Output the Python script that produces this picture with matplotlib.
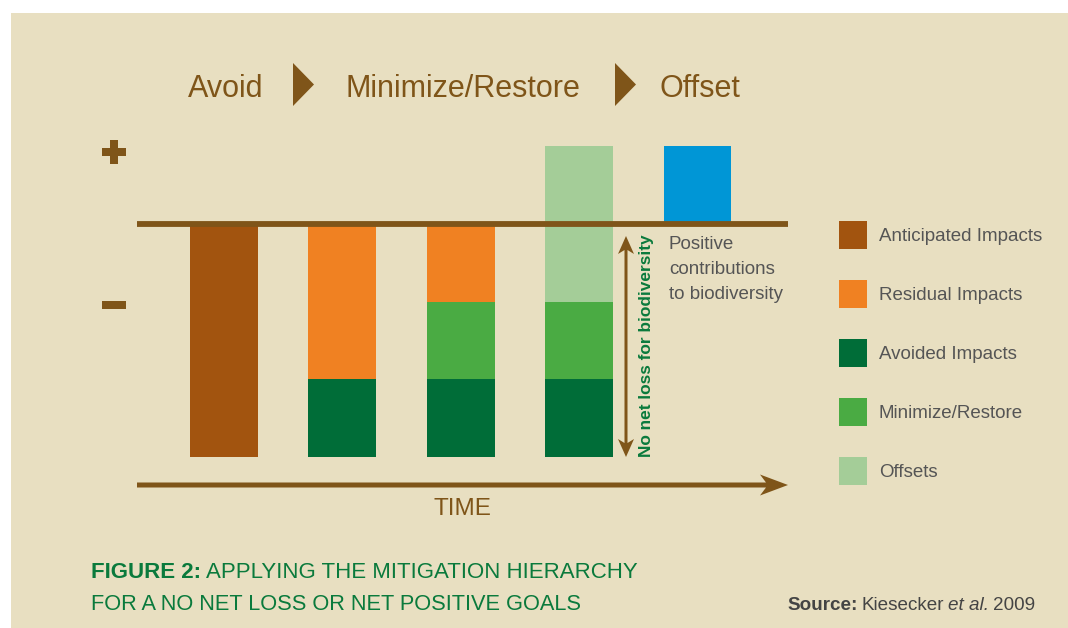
import numpy as np
import matplotlib
matplotlib.use("Agg")
from matplotlib import pyplot as plt
from matplotlib.patches import Polygon, Rectangle

# stage headings above the bars
stages = ["Avoid", "Minimize/Restore", "Offset"]
stage_bar = [0, 2, 4]

# stacked segments per bar (units of impact), bottom-up from -3
legend_labels = ["Anticipated Impacts", "Residual Impacts", "Avoided Impacts",
                 "Minimize/Restore", "Offsets"]
avoided = [0, 1, 1, 1, 0]
minimize = [0, 0, 1, 1, 0]
offsets = [0, 0, 0, 2, 0]
residual = [0, 2, 1, 0, 0]
anticipated = [3, 0, 0, 0, 0]
net_positive = [0, 0, 0, 0, 1]
base = -3

col_anticipated = "#a2540f"
col_residual = "#f08122"
col_avoided = "#006d38"
col_minimize = "#4aab43"
col_offsets = "#a4cd98"
col_positive = "#0096d6"
legend_colors = [col_anticipated, col_residual, col_avoided, col_minimize, col_offsets]

brown = "#7f5519"
green_txt = "#0a7a3c"
gray = "#555555"
panel = "#e8dfc1"

sans = ["Liberation Sans", "DejaVu Sans"]

fig = plt.figure(figsize=(10.68, 6.28), dpi=100)
fig.patch.set_facecolor("white")

# decoration layer in pixel coords
deco = fig.add_axes([0, 0, 1, 1], zorder=0)
deco.set_xlim(0, 1068)
deco.set_ylim(628, 0)
deco.axis("off")
deco.add_patch(Rectangle((11, 13), 1057, 615, color=panel, lw=0))

# chart layer in data coords
ax = fig.add_axes([0, 0, 1, 1], zorder=1)
ax.patch.set_alpha(0)
ax.axis("off")
ax.set_xlim(-223.9 / 118.4, (1068 - 223.9) / 118.4)
ax.set_ylim((224 - 628) / 77.7, 224 / 77.7)

x = np.arange(len(avoided))
w = 0.574
bottom = np.full(len(x), float(base))
for vals, c in [(avoided, col_avoided), (minimize, col_minimize), (offsets, col_offsets),
                (residual, col_residual), (anticipated, col_anticipated)]:
    v = np.array(vals, dtype=float)
    ax.bar(x, v, w, bottom=bottom, color=c, lw=0)
    bottom += v
ax.bar(x, net_positive, w, bottom=0, color=col_positive, lw=0)

# baseline
ax.hlines(0, -0.734, 4.764, color=brown, lw=4.2, zorder=5)

# plus / minus signs
deco.add_patch(Rectangle((102, 148), 24, 8, color=brown, lw=0))
deco.add_patch(Rectangle((110, 140), 8, 24, color=brown, lw=0))
deco.add_patch(Rectangle((102, 301), 24, 8, color=brown, lw=0))

# stage headings and chevrons
for name, b in zip(stages, stage_bar):
    px = ax.transData.transform((b, 0))[0]
    deco.text(px + 2, 89, name, ha="center", va="center", fontsize=22,
              color=brown, family=sans)
for tx in [293, 615]:
    deco.add_patch(Polygon([(tx, 63), (tx + 21, 84.5), (tx, 106)], color=brown, lw=0))

# time arrow
deco.add_patch(Polygon([(137, 482.5), (766, 482.5), (760, 474.5), (788, 485),
                        (760, 495.5), (766, 487.5), (137, 487.5)], color=brown, lw=0))
deco.text(462, 509, "TIME", ha="center", va="center", fontsize=17.5, color=brown, family=sans)

# double arrow for no net loss
ax_x = 626
deco.add_patch(Polygon([(ax_x, 236), (ax_x + 8, 254), (ax_x + 1.5, 250), (ax_x + 1.5, 443),
                        (ax_x + 8, 439), (ax_x, 457), (ax_x - 8, 439), (ax_x - 1.5, 443),
                        (ax_x - 1.5, 250), (ax_x - 8, 254)], color=brown, lw=0))
deco.text(646, 346, "No net loss for biodiversity", rotation=90, ha="center", va="center",
          fontsize=12.4, fontweight="bold", color=green_txt, family=sans)

deco.text(669, 236, "Positive\ncontributions\nto biodiversity", ha="left", va="top",
          fontsize=13.5, color=gray, family=sans, linespacing=1.6)

# legend
leg_y = [236.5, 295.5, 354.5, 413.5, 472.5]
for lab, c, yy in zip(legend_labels, legend_colors, leg_y):
    deco.add_patch(Rectangle((839, yy - 15.5), 28, 28, color=c, lw=0))
    deco.text(879, yy, lab, ha="left", va="center", fontsize=13.5, color=gray, family=sans)

# caption and source, built piece by piece
renderer = fig.canvas.get_renderer()


def chain(x0, y0, parts, size, color, fam):
    xx = x0
    for s, weight, style, gap in parts:
        t = deco.text(xx, y0, s, ha="left", va="center", fontsize=size, color=color,
                      fontweight=weight, fontstyle=style, family=fam)
        xx += t.get_window_extent(renderer).width + gap
    return xx


chain(91, 572, [("FIGURE 2:", "bold", "normal", 5),
                ("APPLYING THE MITIGATION HIERARCHY", "normal", "normal", 0)],
      16, green_txt, sans)
chain(91, 605, [("FOR A NO NET LOSS OR NET POSITIVE GOALS", "normal", "normal", 0)],
      15.7, green_txt, sans)
chain(787, 605, [("Source:", "bold", "normal", 4), ("Kiesecker", "normal", "normal", 4),
                 ("et al.", "normal", "italic", 4), ("2009", "normal", "normal", 0)],
      13.6, "#444444", sans)

fig.savefig("out.png", dpi=100, facecolor="white")
